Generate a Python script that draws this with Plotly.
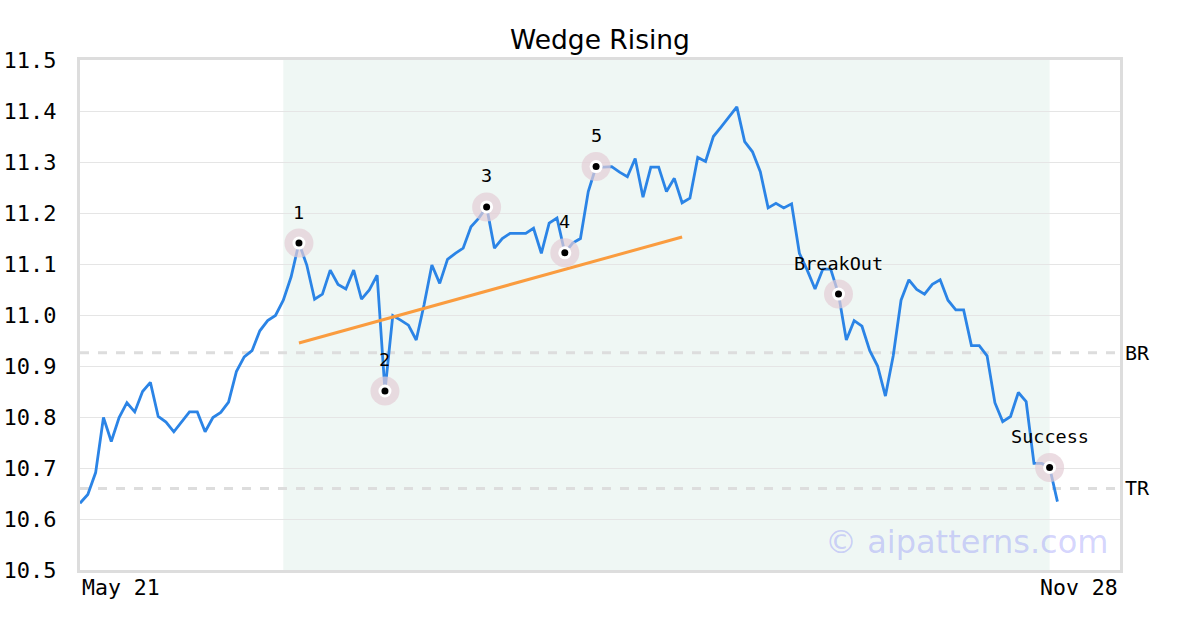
import plotly.graph_objects as go

title = "Wedge Rising"
prices = [
    10.631, 10.648, 10.691, 10.799, 10.752, 10.799, 10.828, 10.810, 10.850, 10.868,
    10.801, 10.790, 10.771, 10.791, 10.810, 10.810, 10.771, 10.799, 10.809, 10.829,
    10.889, 10.918, 10.930, 10.969, 10.989, 10.999, 11.029, 11.075, 11.141, 11.098,
    11.031, 11.041, 11.088, 11.060, 11.051, 11.088, 11.031, 11.049, 11.078, 10.851,
    10.999, 10.990, 10.980, 10.951, 11.020, 11.098, 11.062, 11.109, 11.121, 11.131,
    11.173, 11.190, 11.212, 11.131, 11.150, 11.160, 11.160, 11.160, 11.170, 11.121,
    11.180, 11.190, 11.122, 11.141, 11.150, 11.242, 11.291, 11.290, 11.291, 11.280,
    11.271, 11.307, 11.231, 11.290, 11.290, 11.242, 11.268, 11.220, 11.229, 11.309,
    11.301, 11.350, 11.369, 11.389, 11.408, 11.340, 11.320, 11.281, 11.210, 11.219,
    11.210, 11.218, 11.121, 11.088, 11.051, 11.090, 11.090, 11.041, 10.951, 10.989,
    10.978, 10.930, 10.900, 10.841, 10.920, 11.029, 11.069, 11.050, 11.041, 11.060,
    11.069, 11.029, 11.010, 11.010, 10.940, 10.940, 10.920, 10.828, 10.791, 10.801,
    10.848, 10.830, 10.709, 10.709, 10.701, 10.634,
]
point_idx = [28, 39, 52, 62, 66, 97, 124]
point_labels = ["1", "2", "3", "4", "5", "BreakOut", "Success"]
trend_idx = [28, 77]
trend_vals = [10.945, 11.153]
shade_range = [26, 124]
levels = [10.926, 10.660]
level_labels = ["BR", "TR"]
x_labels = ["May 21", "Nov 28"]
y_ticks = [10.5, 10.6, 10.7, 10.8, 10.9, 11.0, 11.1, 11.2, 11.3, 11.4, 11.5]
x_max = 133

mono = "DejaVu Sans Mono"
sans = "DejaVu Sans"
x = list(range(len(prices)))
px_ = point_idx
py_ = [prices[i] for i in point_idx]

fig = go.Figure()
fig.add_shape(type="rect", xref="x", yref="paper", x0=shade_range[0], x1=shade_range[1],
              y0=0, y1=1, fillcolor="#eff7f4", line_width=0, layer="below")
for lv in levels:
    fig.add_shape(type="line", xref="paper", yref="y", x0=0, x1=1, y0=lv, y1=lv,
                  line=dict(color="#dddddd", width=3, dash="dash"), layer="below")

fig.add_trace(go.Scatter(x=x, y=prices, mode="lines",
                         line=dict(color="#2b84e6", width=2.8), hoverinfo="skip"))
fig.add_trace(go.Scatter(x=trend_idx, y=trend_vals, mode="lines",
                         line=dict(color="#fa9c3f", width=3), hoverinfo="skip"))
fig.add_trace(go.Scatter(x=px_, y=py_, mode="markers",
                         marker=dict(size=29, color="rgba(228,205,214,0.7)", line_width=0),
                         hoverinfo="skip"))
fig.add_trace(go.Scatter(x=px_, y=py_, mode="markers",
                         marker=dict(size=13, color="white", line_width=0),
                         hoverinfo="skip"))
fig.add_trace(go.Scatter(x=px_, y=py_, mode="markers",
                         marker=dict(size=7, color="black", line_width=0),
                         hoverinfo="skip"))

annotations = []
for xi, yi, lab in zip(px_, py_, point_labels):
    annotations.append(dict(xref="x", yref="y", x=xi, y=yi, text=lab, showarrow=False,
                            xanchor="center", yanchor="middle", yshift=31,
                            font=dict(family=mono, size=18.5, color="black")))
for lv, lab in zip(levels, level_labels):
    annotations.append(dict(xref="paper", yref="y", x=1, y=lv, text=lab, showarrow=False,
                            xanchor="left", xshift=3, font=dict(family=mono, size=20, color="black")))
annotations.append(dict(xref="paper", yref="paper", x=0, y=0, text=x_labels[0], showarrow=False,
                        xanchor="left", yanchor="top", yshift=-3,
                        font=dict(family=mono, size=21.5, color="black")))
annotations.append(dict(xref="paper", yref="paper", x=1, y=0, text=x_labels[1], showarrow=False,
                        xanchor="right", yanchor="top", yshift=-3,
                        font=dict(family=mono, size=21.5, color="black")))
annotations.append(dict(xref="paper", yref="paper", x=0.99, y=0.055, text="© aipatterns.com",
                        showarrow=False, xanchor="right", yanchor="middle",
                        font=dict(family=sans, size=32, color="rgba(110,110,250,0.3)")))

fig.update_layout(
    width=1200, height=630,
    margin=dict(l=80, r=80, t=60, b=60, autoexpand=False),
    paper_bgcolor="white", plot_bgcolor="white",
    showlegend=False,
    title=dict(text=title, x=0.5, xanchor="center", y=0.9365, yanchor="middle",
               font=dict(family=sans, size=26.5, color="black")),
    annotations=annotations,
)
fig.update_xaxes(range=[0, x_max], showgrid=False, zeroline=False, showticklabels=False,
                 showline=True, linecolor="#dddddd", linewidth=3, mirror=True, automargin=False)
fig.update_yaxes(range=[10.5, 11.5], tickvals=y_ticks, ticktext=[f"{v:.1f}" for v in y_ticks],
                 showgrid=True, gridcolor="#e5e5e5", gridwidth=1, zeroline=False,
                 tickfont=dict(family=mono, size=22, color="black"),
                 showline=True, linecolor="#dddddd", linewidth=3, mirror=True, automargin=False,
                 ticks="outside", ticklen=16, tickcolor="rgba(0,0,0,0)")

fig.write_html("out.html", config={"displayModeBar": False},
               post_script="document.body.style.margin='0';")
